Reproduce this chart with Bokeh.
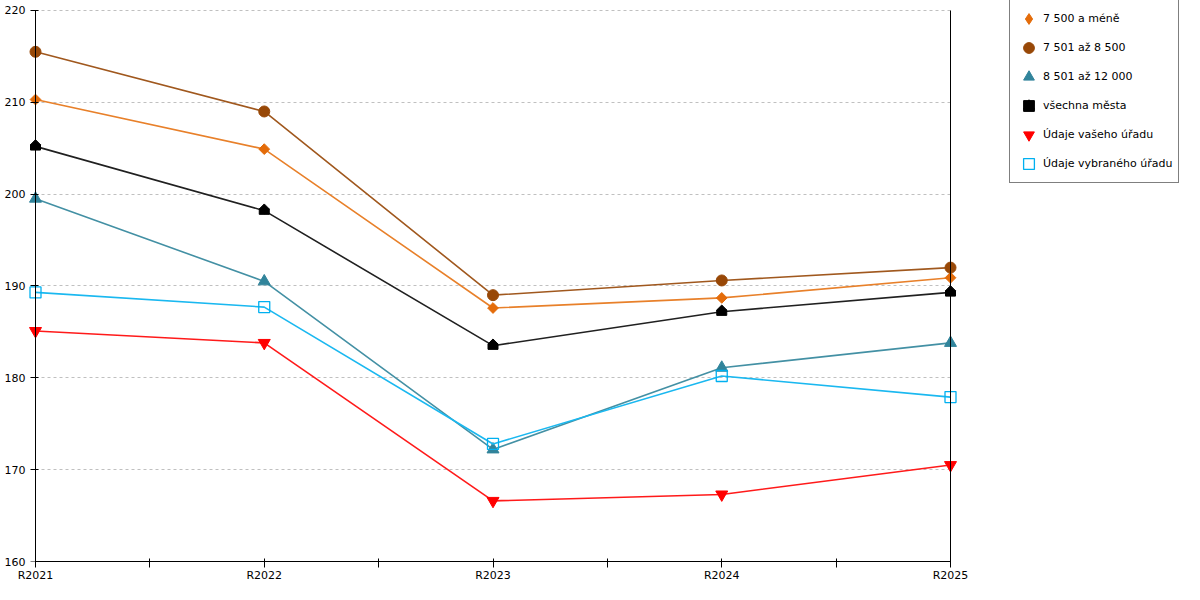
import math
from bokeh.plotting import figure
from bokeh.models import (Range1d, FixedTicker, LinearAxis, Legend, LegendItem,
                          ColumnDataSource)
from bokeh.transform import dodge
from bokeh.embed import file_html
from bokeh.resources import INLINE

categories = ["R2021", "R2022", "R2023", "R2024", "R2025"]
s_7500 = [210.3, 204.9, 187.6, 188.7, 190.9]
s_8500 = [215.5, 209.0, 189.0, 190.6, 192.0]
s_12000 = [199.5, 190.5, 172.2, 181.1, 183.8]
s_vse = [205.2, 198.2, 183.5, 187.2, 189.3]
s_vas = [185.1, 183.8, 166.6, 167.3, 170.5]
s_vyb = [189.3, 187.7, 172.8, 180.2, 177.9]
y_ticks = [160, 170, 180, 190, 200, 210, 220]

names = ["7 500 a méně", "7 501 až 8 500", "8 501 až 12 000",
         "všechna města", "Údaje vašeho úřadu", "Údaje vybraného úřadu"]

FONT = "DejaVu Sans"
FS = "11px"

# layout constants (pixels)
W, H = 1184, 584
BORDER_LEFT, BORDER_BOTTOM = 28, 20
AX_LEFT_PX, AX_RIGHT_PX = 35, 950      # canvas x of first / last category
AX_TOP_PX = 10                          # canvas y of top tick
FRAME_W = W - BORDER_LEFT
FRAME_H = H - BORDER_BOTTOM

xs = list(range(len(categories)))
ppu_x = (AX_RIGHT_PX - AX_LEFT_PX) / (xs[-1] - xs[0])
x_start = xs[0] - (AX_LEFT_PX - BORDER_LEFT) / ppu_x
x_end = x_start + FRAME_W / ppu_x
ppu_y = (FRAME_H - AX_TOP_PX) / (y_ticks[-1] - y_ticks[0])
y_end = y_ticks[-1] + AX_TOP_PX / ppu_y

p = figure(width=W, height=H, output_backend="svg", toolbar_location=None,
           x_range=Range1d(x_start, x_end),
           y_range=Range1d(y_ticks[0], y_end),
           min_border_left=BORDER_LEFT, min_border_right=0, min_border_top=0,
           min_border_bottom=BORDER_BOTTOM)
p.outline_line_color = None
p.background_fill_color = "white"
p.border_fill_color = "white"

# x axis (normal, below)
xa = p.xaxis[0]
xa.bounds = (xs[0], xs[-1])
xa.ticker = FixedTicker(ticks=xs, minor_ticks=[i + 0.5 for i in xs[:-1]])
xa.major_label_overrides = {i: c for i, c in zip(xs, categories)}
xa.major_tick_in = 3
xa.major_tick_out = 6
xa.minor_tick_in = 3
xa.minor_tick_out = 6
xa.major_label_standoff = 1
xa.axis_line_color = "black"
xa.major_tick_line_color = "black"
xa.minor_tick_line_color = "black"
xa.major_label_text_font = FONT
xa.major_label_text_font_size = FS
xa.major_label_text_color = "black"

# y axis labels (normal, left side), no line/ticks
ya = p.yaxis[0]
ya.ticker = FixedTicker(ticks=y_ticks)
ya.major_tick_in = 0
ya.major_tick_out = 0
ya.minor_tick_line_color = None
ya.major_tick_line_color = None
ya.axis_line_color = None
ya.major_label_standoff = 3
ya.major_label_text_font = FONT
ya.major_label_text_font_size = FS
ya.major_label_text_color = "black"

# y axis line + ticks at the first category (ticks as unlabeled minor ticks)
yline = LinearAxis(ticker=FixedTicker(ticks=[], minor_ticks=y_ticks), fixed_location=xs[0],
                   bounds=(y_ticks[0], y_ticks[-1]),
                   major_tick_in=0, major_tick_out=0, minor_tick_in=3, minor_tick_out=5,
                   axis_line_color="black", minor_tick_line_color="black")
p.add_layout(yline, "left")

# right axis line at the last category
right = LinearAxis(ticker=FixedTicker(ticks=[]), major_tick_in=0, major_tick_out=0,
                   minor_tick_in=0, minor_tick_out=0, fixed_location=xs[-1],
                   bounds=(y_ticks[0], y_ticks[-1]), axis_line_color="black")
p.add_layout(right, "right")

p.xgrid.grid_line_color = None
p.ygrid.ticker = FixedTicker(ticks=y_ticks[1:])
p.ygrid.grid_line_color = "#c0c0c0"
p.ygrid.grid_line_dash = "3 3"
p.ygrid.grid_line_width = 1
p.ygrid.cross_bounds = (xs[0], xs[-1])

LW = 1.6
items = []

# 7 500 a méně
c1 = "#E46C0A"
p.line(xs, s_7500, line_color="#E8802A", line_width=LW)
leg1 = p.scatter(xs, s_7500, marker="diamond", size=1, fill_color=c1, line_color=c1)
p.scatter(xs, s_7500, marker="square", angle=math.pi / 4, size=7.6,
          fill_color=c1, line_color=c1)
items.append(LegendItem(label=names[0], renderers=[leg1]))

# 7 501 až 8 500
c2 = "#984807"
p.line(xs, s_8500, line_color="#A0581E", line_width=LW)
r2 = p.scatter(xs, s_8500, marker="circle", size=11, fill_color=c2, line_color=c2)
items.append(LegendItem(label=names[1], renderers=[r2]))

# 8 501 až 12 000
c3 = "#31849B"
p.line(xs, s_12000, line_color="#4390A4", line_width=LW)
r3 = p.scatter(xs, s_12000, marker="triangle", size=12, fill_color=c3, line_color=c3)
items.append(LegendItem(label=names[2], renderers=[r3]))

# všechna města (house-shaped marker: body + roof)
c4 = "black"
src4 = ColumnDataSource(dict(x=xs, y=s_vse))
p.line("x", "y", source=src4, line_color="#202020", line_width=LW)
leg4a = p.scatter("x", "y", source=src4, marker="square", size=1, fill_color=c4, line_color=c4)
leg4b = p.scatter("x", "y", source=src4, marker="triangle", size=1, fill_color=c4, line_color=c4)
p.rect("x", dodge("y", -1.0 / ppu_y, range=p.y_range), source=src4,
       width=10, height=5.4, width_units="screen", height_units="screen",
       fill_color=c4, line_color=c4)
p.scatter("x", dodge("y", 1.7 / ppu_y, range=p.y_range), source=src4,
          marker="square", angle=math.pi / 4, size=7.1, fill_color=c4, line_color=c4)
items.append(LegendItem(label=names[3], renderers=[leg4a, leg4b]))

# Údaje vašeho úřadu
c5 = "#FF0000"
p.line(xs, s_vas, line_color="#FF1A1A", line_width=LW)
r5 = p.scatter(xs, s_vas, marker="inverted_triangle", size=12, fill_color=c5, line_color=c5)
items.append(LegendItem(label=names[4], renderers=[r5]))

# Údaje vybraného úřadu
c6 = "#00B0F0"
p.line(xs, s_vyb, line_color="#1AB8F0", line_width=LW)
r6 = p.scatter(xs, s_vyb, marker="square", size=11, fill_color="white", fill_alpha=0.0,
               line_color=c6, line_width=1.3)
items.append(LegendItem(label=names[5], renderers=[r6]))

LEG_W, LEG_H = 173, 183
legend = Legend(items=items, location=(FRAME_W - LEG_W - 2, FRAME_H - LEG_H - 3),
                margin=0, padding=5, spacing=2,
                glyph_width=27, glyph_height=27, label_height=27, label_standoff=1,
                label_text_font=FONT, label_text_font_size=FS, label_text_color="black",
                border_line_color="black", border_line_width=1,
                background_fill_color="white", background_fill_alpha=1.0)
p.add_layout(legend, "center")

open("out.html", "w").write(file_html(p, INLINE))
